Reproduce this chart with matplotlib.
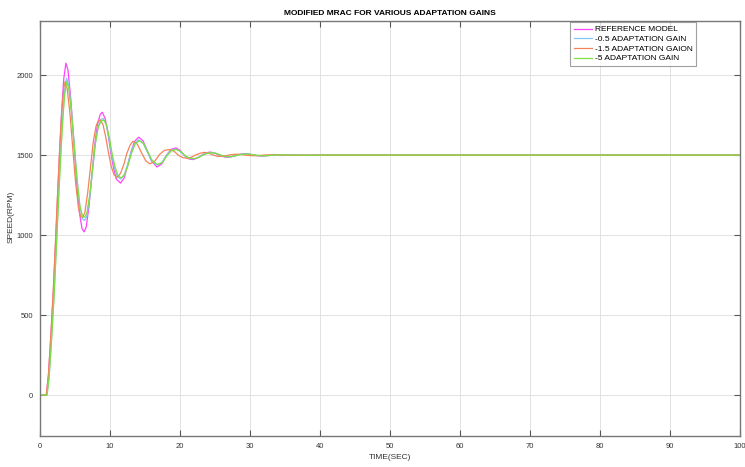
import numpy as np
import matplotlib as mpl
mpl.use("Agg")
import matplotlib.pyplot as plt

plt.rcParams['font.family'] = ['Liberation Sans Narrow', 'Liberation Sans', 'DejaVu Sans']

# reference model response
t_ref = [0, 0.9, 1.2, 1.5, 1.9, 2.2, 2.5, 2.8, 3.1, 3.4, 3.7, 4.0, 4.4, 4.8, 5.2, 5.6, 6.0, 6.3, 6.6,
         7.0, 7.4, 7.8, 8.2, 8.6, 8.9, 9.3, 9.7, 10.1, 10.5, 10.9, 11.5, 12.0, 12.5, 13.0, 13.5,
         14.1, 14.7, 15.3, 15.9, 16.7, 17.4, 18.1, 18.7, 19.4, 20.0, 20.7, 21.3, 21.9, 22.5, 23.1,
         23.7, 24.3, 25.0, 25.7, 26.4, 27.0, 27.6, 28.3, 29.0, 29.6, 30.3, 31.0, 31.6, 32.2, 33,
         34, 35, 36, 38, 40, 100]
y_ref = [0, 0, 120, 330, 640, 930, 1230, 1520, 1780, 1980, 2075, 2030, 1850, 1600, 1350, 1150,
         1040, 1020, 1050, 1180, 1370, 1560, 1690, 1755, 1768, 1730, 1640, 1520, 1420, 1350, 1325,
         1355, 1430, 1520, 1585, 1612, 1590, 1530, 1465, 1425, 1445, 1500, 1535, 1545, 1530, 1495,
         1475, 1472, 1482, 1500, 1514, 1519, 1512, 1497, 1487, 1486, 1492, 1502, 1508, 1508, 1503,
         1496, 1494, 1495, 1499, 1503, 1502, 1500, 1499, 1500, 1500]

# -5 adaptation gain
t_g5 = [0, 1.0, 1.3, 1.6, 2.0, 2.3, 2.6, 2.9, 3.2, 3.5, 3.8, 4.1, 4.5, 4.9, 5.3, 5.7, 6.1, 6.4,
        6.7, 7.1, 7.5, 7.9, 8.3, 8.7, 9.1, 9.5, 9.9, 10.3, 10.7, 11.1, 11.6, 12.1, 12.6, 13.1,
        13.6, 14.2, 14.8, 15.4, 16.0, 16.8, 17.5, 18.2, 18.8, 19.5, 20.1, 20.8, 21.4, 22.1, 22.7,
        23.3, 23.9, 24.6, 25.3, 26.0, 26.6, 27.2, 27.8, 28.5, 29.2, 29.8, 30.5, 31.2, 31.8, 32.4,
        33.2, 34, 35, 36, 38, 40, 100]
y_g5 = [0, 0, 110, 310, 610, 890, 1170, 1440, 1680, 1870, 1956, 1920, 1760, 1550, 1340, 1180,
        1115, 1112, 1140, 1250, 1410, 1570, 1670, 1712, 1719, 1690, 1610, 1510, 1430, 1375, 1356,
        1380, 1440, 1515, 1570, 1590, 1572, 1520, 1468, 1440, 1455, 1500, 1528, 1535, 1522, 1494,
        1480, 1478, 1486, 1500, 1511, 1515, 1509, 1497, 1490, 1490, 1494, 1502, 1506, 1506, 1502,
        1497, 1495, 1496, 1499, 1502, 1501, 1500, 1499, 1500, 1500]

# -0.5 adaptation gain (mostly hidden under the others)
t_g05 = [0, 1.0, 1.3, 1.6, 2.0, 2.3, 2.6, 2.9, 3.2, 3.5, 3.8, 4.1, 4.5, 4.9, 5.3, 5.7, 6.1, 6.4,
         6.7, 7.1, 7.5, 7.9, 8.3, 8.7, 9.0, 9.4, 9.8, 10.2, 10.6, 11.0, 11.5, 12.0, 12.5, 13.0,
         13.5, 14.1, 14.7, 15.3, 15.9, 16.7, 17.4, 18.1, 18.7, 19.4, 20.0, 20.7, 21.3, 22.0, 22.6,
         23.2, 23.8, 24.5, 25.2, 25.9, 26.5, 27.1, 27.7, 28.4, 29.1, 29.7, 30.4, 31.1, 31.7, 32.3,
         33.1, 34, 35, 36, 38, 40, 100]
y_g05 = [0, 0, 112, 315, 620, 900, 1190, 1470, 1710, 1900, 1980, 1940, 1780, 1565, 1345, 1175,
         1100, 1092, 1120, 1235, 1400, 1570, 1678, 1722, 1730, 1700, 1615, 1512, 1427, 1370, 1350,
         1374, 1437, 1516, 1573, 1595, 1576, 1522, 1467, 1438, 1453, 1500, 1529, 1537, 1524, 1494,
         1479, 1477, 1485, 1500, 1512, 1516, 1510, 1497, 1489, 1489, 1493, 1502, 1507, 1507, 1502,
         1497, 1495, 1496, 1499, 1502, 1501, 1500, 1499, 1500, 1500]

# -1.5 adaptation gain (leads in phase)
t_g15 = [0, 0.9, 1.2, 1.5, 1.9, 2.2, 2.5, 2.8, 3.1, 3.4, 3.6, 3.9, 4.3, 4.7, 5.1, 5.5, 5.8, 6.1,
         6.4, 6.8, 7.2, 7.6, 8.0, 8.3, 8.6, 9.0, 9.4, 9.8, 10.2, 10.6, 11.0, 11.5, 12.0, 12.4,
         12.9, 13.3, 13.9, 14.5, 15.1, 15.7, 16.4, 17.1, 17.8, 18.6, 19.2, 19.8, 20.4, 21.0, 21.6,
         22.2, 22.9, 23.5, 24.2, 24.8, 25.4, 26.0, 26.6, 27.2, 27.9, 28.5, 29.2, 29.9, 30.5, 31.1,
         32, 33, 34, 35, 37, 40, 100]
y_g15 = [0, 0, 125, 340, 660, 950, 1250, 1530, 1770, 1920, 1960, 1910, 1750, 1530, 1320, 1170,
         1115, 1110, 1140, 1260, 1420, 1580, 1680, 1712, 1720, 1690, 1610, 1510, 1425, 1375, 1360,
         1385, 1445, 1510, 1565, 1587, 1568, 1515, 1465, 1445, 1462, 1505, 1530, 1535, 1522, 1498,
         1484, 1480, 1486, 1500, 1512, 1517, 1510, 1499, 1492, 1492, 1496, 1502, 1505, 1505, 1501,
         1497, 1496, 1497, 1500, 1502, 1501, 1500, 1499, 1500, 1500]

x_ticks = list(range(0, 101, 10))
y_ticks = [0, 500, 1000, 1500, 2000]

fig = plt.figure(figsize=(7.45, 4.67), dpi=100)
ax = fig.add_axes([0.0537, 0.0664, 0.9396, 0.8886])

ax.plot(t_ref, y_ref, color='#ff44ff', lw=0.9, label='REFERENCE MODEL')
ax.plot(t_g05, y_g05, color='#7cc8f2', lw=0.9, label='-0.5 ADAPTATION GAIN')
ax.plot(t_g15, y_g15, color='#f4845a', lw=0.9, label='-1.5 ADAPTATION GAION')
ax.plot(t_g5, y_g5, color='#7ee040', lw=0.9, label='-5 ADAPTATION GAIN')

ax.set_xlim(0, 100)
ax.set_ylim(-256, 2338)
ax.set_xticks(x_ticks)
ax.set_yticks(y_ticks)
ax.grid(True, color='#e2e2e2', lw=0.7)
ax.tick_params(direction='in', length=4, width=0.8, labelsize=5.5, top=True, right=True,
               color='#555555', labelcolor='#333333', pad=5)
for s in ax.spines.values():
    s.set_color('#777777')
    s.set_linewidth(1.0)

ax.set_title('MODIFIED MRAC FOR VARIOUS ADAPTATION GAINS', fontsize=6, fontweight='bold', pad=4)
ax.set_xlabel('TIME(SEC)', fontsize=6, color='#333333', labelpad=3)
ax.set_ylabel('SPEED(RPM)', fontsize=6, color='#333333')
ax.yaxis.set_label_coords(-0.036, 0.528)

leg = ax.legend(loc='upper right', bbox_to_anchor=(0.939, 1.0), borderaxespad=0.1,
                fontsize=6, frameon=True, fancybox=False, handlelength=2.2,
                labelspacing=0.22, borderpad=0.45, handletextpad=0.3)
leg.get_frame().set_edgecolor('#888888')
leg.get_frame().set_linewidth(0.8)

fig.savefig('out.png', dpi=100)
